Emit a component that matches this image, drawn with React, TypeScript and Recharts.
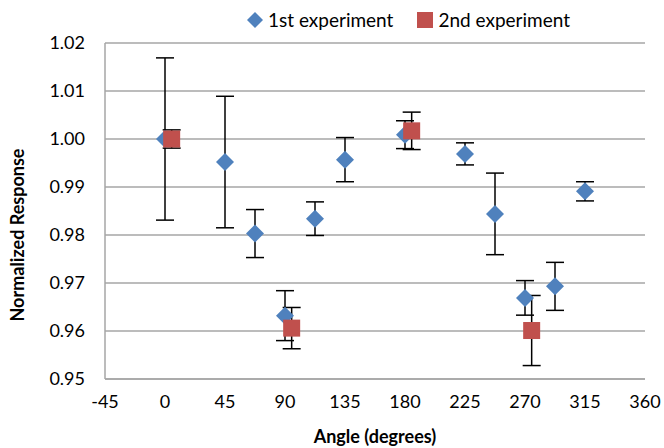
import React from 'react'
import { ScatterChart, Scatter, XAxis, YAxis, CartesianGrid, ErrorBar } from 'recharts'

// 1st experiment
const angles1 = [0, 45, 67.5, 90, 112.5, 135, 180, 225, 247.5, 270, 292.5, 315]
const values1 = [1.0, 0.9952, 0.9803, 0.9632, 0.9834, 0.9957, 1.0009, 0.9969, 0.9844, 0.9669, 0.9693, 0.9891]
const errors1 = [0.0169, 0.0137, 0.005, 0.0052, 0.0035, 0.0046, 0.0029, 0.0023, 0.0085, 0.0036, 0.005, 0.002]

// 2nd experiment
const angles2 = [5, 95, 185, 275]
const values2 = [1.0, 0.9606, 1.0017, 0.9601]
const errors2 = [0.0019, 0.0043, 0.0039, 0.0073]

const xTicks = [-45, 0, 45, 90, 135, 180, 225, 270, 315, 360]
const yTicks = [0.95, 0.96, 0.97, 0.98, 0.99, 1.0, 1.01, 1.02]

const BLUE = '#4F81BD'
const RED = '#C0504D'
const GRID = '#a6a6a6'
const FONT = 'Lato, "Open Sans", sans-serif'

const series1 = angles1.map((a, i) => ({ x: a, y: values1[i], err: errors1[i] }))
const series2 = angles2.map((a, i) => ({ x: a, y: values2[i], err: errors2[i] }))

const Diamond = (props: any) => {
  const { cx, cy } = props
  const r = 9
  return <polygon points={`${cx},${cy - r} ${cx + r},${cy} ${cx},${cy + r} ${cx - r},${cy}`} fill={BLUE} />
}

const Square = (props: any) => {
  const { cx, cy } = props
  const s = 17
  return <rect x={cx - s / 2} y={cy - s / 2} width={s} height={s} fill={RED} />
}

const LegendBox = () => (
  <div
    style={{
      position: 'absolute',
      left: 247,
      top: 8,
      display: 'flex',
      alignItems: 'center',
      fontFamily: FONT,
      fontSize: 19,
      color: '#000',
    }}
  >
    <svg width={16} height={16} style={{ marginRight: 5 }}>
      <polygon points="8,0 16,8 8,16 0,8" fill={BLUE} />
    </svg>
    <span>1st experiment</span>
    <svg width={16} height={16} style={{ marginLeft: 24, marginRight: 5 }}>
      <rect x={0} y={0} width={16} height={16} fill={RED} />
    </svg>
    <span>2nd experiment</span>
  </div>
)

export default function App() {
  return (
    <div style={{ position: 'absolute', left: 0, top: 0, width: 664, height: 448, background: '#fff' }}>
      <ScatterChart width={664} height={448} margin={{ top: 43, right: 19, bottom: 0, left: 0 }}>
        <CartesianGrid horizontal vertical={false} stroke={GRID} strokeWidth={1.5} />
        <XAxis
          type="number"
          dataKey="x"
          domain={[-45, 360]}
          ticks={xTicks}
          tickLine={false}
          axisLine={{ stroke: GRID, strokeWidth: 1.5 }}
          tick={{ fill: '#000', fontSize: 18, fontFamily: FONT }}
          tickMargin={10}
          height={69}
          label={() => (
            <text x={375} y={443} textAnchor="middle" fontFamily={FONT} fontWeight="bold" fontSize={18} fill="#000">
              Angle (degrees)
            </text>
          )}
        />
        <YAxis
          type="number"
          dataKey="y"
          domain={[0.95, 1.02]}
          ticks={yTicks}
          tickFormatter={(v: number) => v.toFixed(2)}
          tickLine={false}
          axisLine={{ stroke: GRID, strokeWidth: 1.5 }}
          tick={{ fill: '#000', fontSize: 18, fontFamily: FONT }}
          tickMargin={14}
          width={105}
          label={() => (
            <text
              x={24}
              y={235}
              transform="rotate(-90 24 235)"
              textAnchor="middle"
              fontFamily={FONT}
              fontWeight="bold"
              fontSize={18}
              fill="#000"
            >
              Normalized Response
            </text>
          )}
        />
        <Scatter name="1st experiment" data={series1} shape={<Diamond />} isAnimationActive={false}>
          <ErrorBar dataKey="err" direction="y" width={9} stroke="#000" strokeWidth={1.5} />
        </Scatter>
        <Scatter name="2nd experiment" data={series2} shape={<Square />} isAnimationActive={false}>
          <ErrorBar dataKey="err" direction="y" width={9} stroke="#000" strokeWidth={1.5} />
        </Scatter>
      </ScatterChart>
      <LegendBox />
    </div>
  )
}
